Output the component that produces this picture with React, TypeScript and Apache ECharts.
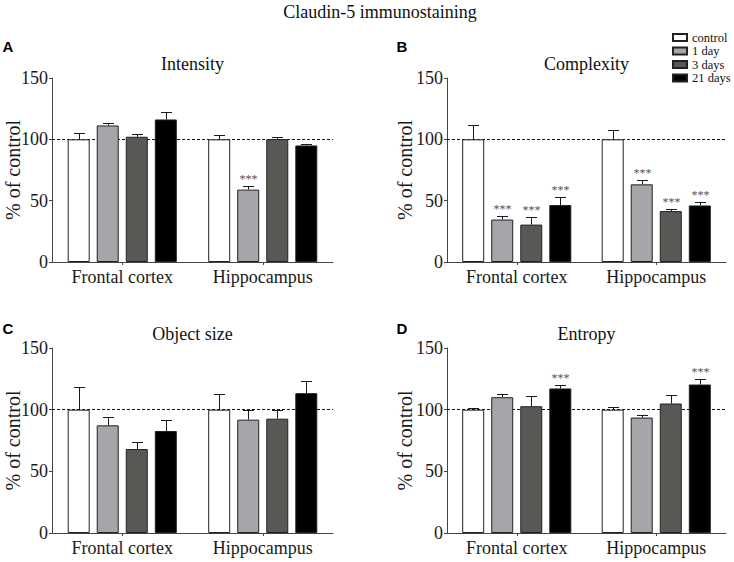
import React, { useEffect, useRef } from "react";
import * as echarts from "echarts";

// ---------------- data ----------------
const categories = ["Frontal cortex", "Hippocampus"];
const groups = ["control", "1 day", "3 days", "21 days"];

// [group][category]
const intensityMeans = [[100, 100], [111.3, 59.0], [102.1, 100.2], [116.2, 95.0]];
const intensityErrors = [[4.8, 3.2], [2.4, 2.7], [1.9, 1.8], [5.7, 1.4]];
const intensitySig = [[0, 0], [0, 1], [0, 0], [0, 0]];

const complexityMeans = [[100, 100], [34.6, 63.3], [30.5, 41.5], [46.4, 46.1]];
const complexityErrors = [[11.5, 8.0], [2.8, 3.8], [6.3, 1.9], [6.5, 2.7]];
const complexitySig = [[0, 0], [1, 1], [1, 1], [1, 1]];

const objectSizeMeans = [[100, 100], [87.3, 91.9], [68.1, 92.7], [82.7, 113.4]];
const objectSizeErrors = [[18.0, 12.3], [6.5, 8.1], [5.9, 7.3], [8.7, 9.7]];
const objectSizeSig = [[0, 0], [0, 0], [0, 0], [0, 0]];

const entropyMeans = [[100, 100], [110.1, 93.6], [102.8, 105.0], [117.2, 120.4]];
const entropyErrors = [[1.6, 2.5], [2.5, 1.9], [8.4, 6.5], [3.2, 4.6]];
const entropySig = [[0, 0], [0, 0], [0, 0], [1, 1]];

const yTicks = { min: 0, max: 150, interval: 50 };
const referenceLine = 100;

// ---------------- styling / layout ----------------
const SERIF = "Liberation Serif";
const SANS = "Liberation Sans";
const groupColors = ["#ffffff", "#a6a6aa", "#575a54", "#000000"];
const BAR_W = 22;
const BAR_GAP = 0.32;
const STEP = BAR_W * (1 + BAR_GAP);

const panels = [
  { title: "Intensity", letter: "A", means: intensityMeans, errs: intensityErrors, sig: intensitySig,
    grid: { left: 52, top: 78, width: 281, height: 184 }, letterPos: [8, 46], yNameX: 13 },
  { title: "Complexity", letter: "B", means: complexityMeans, errs: complexityErrors, sig: complexitySig,
    grid: { left: 447, top: 78, width: 279, height: 184 }, letterPos: [402, 46], yNameX: 405 },
  { title: "Object size", letter: "C", means: objectSizeMeans, errs: objectSizeErrors, sig: objectSizeSig,
    grid: { left: 52, top: 348, width: 281, height: 185 }, letterPos: [8, 328], yNameX: 13 },
  { title: "Entropy", letter: "D", means: entropyMeans, errs: entropyErrors, sig: entropySig,
    grid: { left: 447, top: 348, width: 279, height: 185 }, letterPos: [402, 328], yNameX: 405 },
];

function txt(text: string, x: number, y: number, size: number, extra: any = {}) {
  return {
    type: "text", x, y, rotation: extra.rotation || 0,
    style: {
      text, fontFamily: extra.family || SERIF, fontSize: size, fontWeight: extra.weight || "normal",
      fill: extra.fill || "#111", textAlign: "center", textVerticalAlign: "middle",
    },
  };
}

function buildOption() {
  const grid: any[] = [];
  const xAxis: any[] = [];
  const yAxis: any[] = [];
  const series: any[] = [];
  const graphic: any[] = [txt("Claudin-5 immunostaining", 380, 12, 18)];

  panels.forEach((p, i) => {
    grid.push({ ...p.grid, containLabel: false });
    xAxis.push({
      gridIndex: i, type: "category", data: categories,
      axisLine: { show: true, lineStyle: { color: "#444", width: 1 } },
      axisTick: { show: true, alignWithLabel: true, length: 3, lineStyle: { color: "#444" } },
      axisLabel: { fontFamily: SERIF, fontSize: 18, color: "#1a1a1a", margin: 6 },
      splitLine: { show: false },
    });
    yAxis.push({
      gridIndex: i, type: "value", min: yTicks.min, max: yTicks.max, interval: yTicks.interval,
      axisLine: { show: true, lineStyle: { color: "#444", width: 1 } },
      axisTick: { show: true, length: 3, lineStyle: { color: "#444" } },
      axisLabel: { fontFamily: SERIF, fontSize: 18, color: "#1a1a1a", margin: 4 },
      splitLine: { show: false },
    });

    groups.forEach((g, gi) => {
      const s: any = {
        type: "bar", name: g, xAxisIndex: i, yAxisIndex: i,
        data: p.means[gi], barWidth: BAR_W, barGap: `${BAR_GAP * 100}%`,
        itemStyle: { color: groupColors[gi], borderColor: "#222", borderWidth: 1 },
        emphasis: { disabled: true }, z: 2,
      };
      if (gi === 0) {
        s.markLine = {
          silent: true, symbol: "none", z: 1, animation: false,
          label: { show: false },
          lineStyle: { type: [3, 2], color: "#111", width: 1 },
          emphasis: { disabled: true },
          data: [{ yAxis: referenceLine }],
        };
      }
      series.push(s);
    });

    const errData: any[] = [];
    groups.forEach((_, gi) => {
      categories.forEach((__, ci) => {
        errData.push([ci, gi, p.means[gi][ci], p.errs[gi][ci], p.sig[gi][ci]]);
      });
    });
    series.push({
      type: "custom", xAxisIndex: i, yAxisIndex: i, z: 3, silent: true,
      itemStyle: { color: "#555" },
      encode: { x: 0, y: 2 },
      data: errData,
      renderItem: (params: any, api: any) => {
        const c = api.value(0), g = api.value(1), m = api.value(2), e = api.value(3), sg = api.value(4);
        const base = api.coord([c, m]);
        const top = api.coord([c, m + e]);
        const x = Math.round(base[0] + (g - 1.5) * STEP) + 0.5;
        const ty = Math.round(top[1]) + 0.5;
        const children: any[] = [
          { type: "line", shape: { x1: x, y1: base[1], x2: x, y2: ty }, style: { stroke: "#1a1a1a", lineWidth: 1 } },
          { type: "line", shape: { x1: x - 5.5, y1: ty, x2: x + 5.5, y2: ty }, style: { stroke: "#1a1a1a", lineWidth: 1 } },
        ];
        if (sg) {
          children.push({
            type: "text", x: x, y: ty - 8,
            style: { text: "***", fontFamily: SERIF, fontSize: 12, fill: "#555", textAlign: "center", textVerticalAlign: "middle" },
          });
        }
        return { type: "group", children };
      },
    });

    const cx = p.grid.left + p.grid.width / 2;
    graphic.push(txt(p.title, cx, p.grid.top - 14, 18));
    graphic.push(txt(p.letter, p.letterPos[0], p.letterPos[1], 15, { family: SANS, weight: "bold", fill: "#000" }));
    graphic.push(txt("% of control", p.yNameX, p.grid.top + p.grid.height / 2, 20, { rotation: Math.PI / 2, fill: "#1a1a1a" }));
  });

  return {
    animation: false,
    backgroundColor: "#ffffff",
    textStyle: { fontFamily: SERIF },
    grid, xAxis, yAxis, series, graphic,
    legend: {
      data: groups, orient: "vertical", left: 672, top: 31, padding: 0,
      itemWidth: 14, itemHeight: 7, itemGap: 0.5, icon: "rect",
      selectedMode: false,
      textStyle: { fontFamily: SERIF, fontSize: 12.5, lineHeight: 12, color: "#111" },
    },
  };
}

export default function App() {
  const ref = useRef<HTMLDivElement>(null);
  useEffect(() => {
    if (!ref.current) return;
    const chart = echarts.init(ref.current, undefined, { renderer: "svg" });
    chart.setOption(buildOption() as any);
    return () => chart.dispose();
  }, []);
  return (
    <div
      ref={ref}
      style={{ position: "fixed", left: 0, top: 0, width: 734, height: 562, background: "#fff" }}
    />
  );
}
